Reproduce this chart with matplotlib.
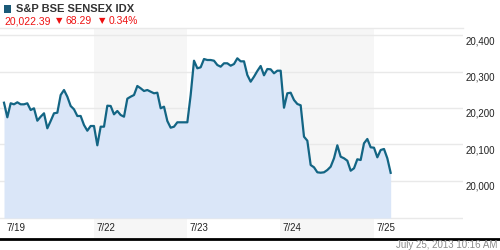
import matplotlib
matplotlib.use("Agg")
import matplotlib.pyplot as plt
import matplotlib.transforms as mtransforms
from matplotlib.lines import Line2D
from matplotlib.patches import Rectangle
import numpy as np

# ---- data ----
title = "S&P BSE SENSEX IDX"
last_value = "20,022.39"
change_abs = "68.29"
change_pct = "0.34%"
timestamp = "July 25, 2013 10:16 AM"
day_labels = ["7/19", "7/22", "7/23", "7/24", "7/25"]
y_ticks = [20000, 20100, 20200, 20300, 20400]
prices = [
    20214.5, 20174.5, 20212.9, 20210.1, 20215.6, 20210.1, 20210.1, 20212.9,
    20194.5, 20199.2, 20165.2, 20176.2, 20185.5, 20144.4, 20164.4, 20185.5,
    20187.1, 20235.6, 20249.3, 20231.0, 20205.5, 20196.4, 20178.1, 20178.1,
    20153.4, 20137.8, 20150.7, 20150.7, 20097.8, 20148.8, 20148.8, 20206.3,
    20205.5, 20182.7, 20191.8, 20180.8, 20176.2, 20225.5, 20231.0, 20235.6,
    20260.3, 20254.0, 20246.6, 20249.3, 20244.7, 20240.3, 20241.9, 20199.2,
    20203.6, 20164.4, 20146.0, 20148.8, 20160.8, 20160.8, 20160.8, 20160.8,
    20235.6, 20329.6, 20308.8, 20311.5, 20334.2, 20331.5, 20331.5, 20329.6,
    20317.8, 20313.2, 20322.5, 20322.5, 20315.9, 20320.5, 20336.2, 20327.9,
    20327.9, 20290.4, 20272.1, 20285.8, 20301.4, 20315.1, 20289.6, 20306.8,
    20306.0, 20295.1, 20302.2, 20302.2, 20200.8, 20240.3, 20241.9, 20221.9,
    20211.0, 20207.4, 20121.4, 20110.4, 20043.8, 20037.5, 20023.8, 20022.7,
    20023.8, 20030.1, 20039.2, 20062.2, 20097.8, 20066.6, 20062.2, 20055.6,
    20028.2, 20034.8, 20059.5, 20057.5, 20103.3, 20115.1, 20092.3, 20091.2,
    20064.9, 20084.9, 20087.7, 20062.2, 20022.39,
]

# ---- layout / style ----
day_starts = [0, 27.0, 55.0, 82.8, 111.0]   # sample index where each day's label begins
line_color = "#136584"
fill_color = "#dae6f8"
band_color = "#f6f6f6"
grid_color = "#e9e9e9"
text_font = ["Liberation Sans", "DejaVu Sans"]
plt.rcParams["font.family"] = text_font

fig = plt.figure(figsize=(5, 2.5), dpi=100)
W, H = 500, 250
ax_left, ax_right, ax_top, ax_bottom = 0, 463, 28, 238
ax = fig.add_axes([ax_left / W, 1 - ax_bottom / H, (ax_right - ax_left) / W, (ax_bottom - ax_top) / H])

y_lo, y_hi = 19843.8, 20419.2
fill_base = 19898.6
x = np.arange(len(prices))
ax.set_xlim(-1.2, 137.7)
ax.set_ylim(y_lo, y_hi)

# alternating day bands
for k in (1, 3):
    ax.axvspan(day_starts[k], day_starts[k + 1], color=band_color, lw=0, zorder=0)

# grid lines
for v in y_ticks + [fill_base]:
    ax.axhline(v, color=grid_color, lw=1, zorder=1)

ax.fill_between(x, prices, fill_base, color=fill_color, lw=0, zorder=2)
ax.plot(x, prices, color=line_color, lw=1.6, zorder=3, solid_joinstyle="round")

for s in ("left", "right", "bottom"):
    ax.spines[s].set_visible(False)
ax.spines["top"].set_color(grid_color)
ax.spines["top"].set_linewidth(1)
ax.set_xticks([])
ax.set_yticks([])
ax.patch.set_alpha(0)

# x labels inside axes
xt = mtransforms.blended_transform_factory(ax.transData, ax.transAxes)
for k, lab in enumerate(day_labels):
    ax.text(day_starts[k] + 0.6, 10 / 210, lab, transform=xt, ha="left", va="center",
            fontsize=7, color="#222222")

# y labels on the right
yt = mtransforms.blended_transform_factory(fig.transFigure, ax.transData)
yoff = mtransforms.ScaledTranslation(0, -6 / 100, fig.dpi_scale_trans)
for v in y_ticks:
    fig.text(466 / W, v, f"{v:,}", transform=yt + yoff, ha="left", va="center",
             fontsize=7, color="#222222")

# bottom black line
fig.add_artist(Line2D([0, 1], [1 - 238.5 / H, 1 - 238.5 / H], transform=fig.transFigure,
                      color="black", lw=2))

# timestamp
fig.text(497 / W, 1 - 245.5 / H, timestamp, ha="right", va="center", fontsize=7, color="#8a8a8a")

# header
fig.add_artist(Rectangle((4 / W, 1 - 12.5 / H), 7 / W, 7 / H, transform=fig.transFigure,
                         color="#1b5a78", lw=0))
fig.text(16 / W, 1 - 9 / H, title, ha="left", va="center", fontsize=8, fontweight="bold",
         color="#333333")
red = "#ee1111"
fig.text(4 / W, 1 - 21 / H, last_value, ha="left", va="center", fontsize=7.5, color=red)
fig.text(56 / W, 1 - 20.5 / H, "\u25bc", ha="left", va="center", fontsize=6, color=red,
         family="DejaVu Sans")
fig.text(66 / W, 1 - 21 / H, change_abs, ha="left", va="center", fontsize=7.5, color=red)
fig.text(99 / W, 1 - 20.5 / H, "\u25bc", ha="left", va="center", fontsize=6, color=red,
         family="DejaVu Sans")
fig.text(109 / W, 1 - 21 / H, change_pct, ha="left", va="center", fontsize=7.5, color=red)

fig.savefig("out.png", dpi=100)
